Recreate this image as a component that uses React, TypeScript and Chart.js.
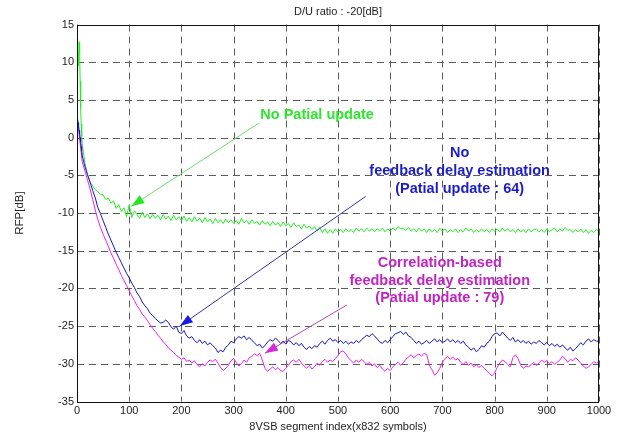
import React, { useEffect, useRef } from "react";
import { Chart, registerables } from "chart.js";

Chart.register(...registerables);

const FONT = "'Liberation Sans', Arial, sans-serif";

const segmentIndex = [
  0, 1, 2, 3, 4, 5, 6, 7, 8, 9, 10,
  15, 20, 25, 30, 35, 40, 45, 50, 55, 60,
  65, 70, 75, 80, 85, 90, 95, 100, 105, 110,
  115, 120, 125, 130, 135, 140, 145, 150, 155, 160,
  165, 170, 175, 180, 185, 190, 195, 200, 205, 210,
  215, 220, 225, 230, 235, 240, 245, 250, 255, 260,
  265, 270, 275, 280, 285, 290, 295, 300, 305, 310,
  315, 320, 325, 330, 335, 340, 345, 350, 355, 360,
  365, 370, 375, 380, 385, 390, 395, 400, 405, 410,
  415, 420, 425, 430, 435, 440, 445, 450, 455, 460,
  465, 470, 475, 480, 485, 490, 495, 500, 505, 510,
  515, 520, 525, 530, 535, 540, 545, 550, 555, 560,
  565, 570, 575, 580, 585, 590, 595, 600, 605, 610,
  615, 620, 625, 630, 635, 640, 645, 650, 655, 660,
  665, 670, 675, 680, 685, 690, 695, 700, 705, 710,
  715, 720, 725, 730, 735, 740, 745, 750, 755, 760,
  765, 770, 775, 780, 785, 790, 795, 800, 805, 810,
  815, 820, 825, 830, 835, 840, 845, 850, 855, 860,
  865, 870, 875, 880, 885, 890, 895, 900, 905, 910,
  915, 920, 925, 930, 935, 940, 945, 950, 955, 960,
  965, 970, 975, 980, 985, 990, 995, 1000,
];

const noPartialUpdate = [
  4.2, 10.4, 9.5, 10.8, 12.7, 11.2, 7.5, 4.0, 1.8, 0.2, -0.8,
  -3.3, -4.9, -5.9, -6.4, -6.9, -7.2, -7.5, -7.6, -8.2, -8.0,
  -8.7, -8.4, -9.4, -8.9, -9.8, -9.3, -10.5, -8.9, -10.6, -9.7,
  -10.2, -10.7, -9.9, -10.6, -10.1, -10.8, -10.2, -10.7, -10.3, -10.9,
  -10.2, -10.8, -10.4, -11.0, -10.3, -10.9, -10.5, -11.0, -10.4, -11.1,
  -10.6, -11.2, -10.5, -11.1, -10.7, -11.3, -10.6, -11.2, -10.8, -11.4,
  -10.7, -11.3, -10.9, -11.4, -10.8, -11.3, -10.9, -11.4, -11.0, -11.5,
  -10.7, -11.3, -11.0, -11.5, -10.9, -11.4, -11.1, -11.6, -11.0, -11.5,
  -11.2, -11.7, -11.1, -11.6, -11.3, -11.8, -11.2, -11.7, -11.4, -11.9,
  -11.3, -11.8, -11.6, -12.1, -11.5, -12.0, -11.7, -12.2, -11.8, -12.4,
  -11.9, -12.6, -12.1, -12.7, -12.2, -12.7, -12.1, -12.5, -12.2, -12.6,
  -12.1, -12.5, -12.2, -12.6, -12.0, -12.4, -12.1, -12.5, -12.0, -12.4,
  -12.1, -12.5, -12.1, -12.4, -12.0, -12.5, -12.1, -12.4, -12.0, -12.3,
  -11.8, -12.1, -12.0, -12.3, -11.9, -12.4, -12.1, -12.5, -12.0, -12.4,
  -12.1, -12.6, -12.1, -12.5, -12.2, -12.6, -12.0, -12.4, -12.1, -12.6,
  -12.2, -12.5, -12.1, -12.6, -12.2, -12.5, -12.0, -12.4, -12.1, -12.6,
  -12.2, -12.5, -12.1, -12.5, -12.2, -12.6, -12.1, -12.4, -12.1, -12.5,
  -12.0, -12.4, -12.1, -12.5, -12.2, -12.6, -12.1, -12.5, -12.2, -12.6,
  -12.1, -12.5, -12.2, -12.1, -12.5, -12.2, -12.6, -12.1, -12.5, -12.2,
  -12.0, -12.5, -12.1, -12.4, -11.9, -12.3, -12.2, -12.6, -12.2, -12.5,
  -12.1, -12.6, -12.2, -12.7, -12.3, -12.6, -12.2, -12.4,
];

const noFeedbackDelay = [
  3.0, 2.5, 2.0, 1.5, 1.0, 0.5, 0.0, -0.6, -1.2, -1.8, -2.4,
  -3.8, -4.9, -5.9, -7.0, -8.0, -9.3, -10.1, -11.0, -11.9, -12.8,
  -13.6, -14.4, -15.2, -15.9, -16.6, -17.3, -18.0, -18.6, -19.3, -19.9,
  -20.6, -21.1, -21.8, -22.3, -22.7, -23.3, -23.6, -24.0, -24.3, -24.6,
  -24.5, -24.2, -24.5, -25.1, -25.4, -25.0, -25.8, -26.0, -25.6, -26.3,
  -26.6, -26.4, -26.9, -27.2, -26.8, -27.3, -27.0, -27.5, -27.2, -27.6,
  -27.9, -28.5, -28.2, -28.4, -27.8, -27.5, -27.0, -27.2, -26.7, -26.4,
  -26.6, -26.3, -26.8, -26.5, -26.9, -27.2, -27.6, -27.4, -27.9, -27.6,
  -27.1, -26.8, -27.0, -26.6, -26.9, -27.3, -27.0, -27.4, -26.9, -27.1,
  -27.5, -27.2, -27.6, -27.3, -27.8, -28.1, -27.7, -28.0, -27.6, -27.8,
  -27.3, -27.0, -27.4, -26.9, -26.6, -27.0, -26.8, -27.2, -26.9, -27.3,
  -27.0, -27.4, -27.1, -27.3, -26.9, -27.2, -26.8, -26.5, -26.2, -26.4,
  -26.0, -26.3, -26.7, -27.1, -27.3, -26.9, -27.2, -26.8, -26.4, -26.0,
  -25.9, -25.7, -26.1, -25.8, -26.3, -26.5, -26.9, -27.3, -27.0, -27.4,
  -27.2, -26.9, -27.3, -27.0, -26.7, -27.1, -26.8, -27.2, -27.0, -26.7,
  -27.1, -26.8, -27.2, -26.9, -27.3, -27.0, -27.5, -27.8, -28.2, -27.9,
  -28.4, -28.1, -27.6, -27.8, -27.3, -27.0, -26.4, -26.0, -25.9, -26.3,
  -25.8, -26.2, -26.6, -26.9, -26.5, -27.1, -26.8, -27.2, -26.9, -27.3,
  -27.0, -27.4, -27.1, -27.3, -26.9, -27.2, -27.5, -27.2, -27.6, -27.3,
  -27.7, -27.4, -27.8, -27.5, -27.9, -28.2, -27.8, -28.3, -28.0, -27.6,
  -27.2, -27.5, -27.0, -26.7, -27.1, -26.8, -27.0, -27.0,
];

const correlationBased = [
  2.8, 2.2, 1.6, 1.0, 0.4, -0.2, -0.8, -1.4, -2.0, -2.6, -3.2,
  -4.4, -5.6, -6.8, -8.2, -9.6, -10.9, -11.9, -12.8, -13.6, -14.4,
  -15.3, -16.0, -16.8, -17.5, -18.3, -19.0, -19.6, -20.3, -21.0, -21.6,
  -22.3, -22.8, -23.4, -23.8, -24.3, -24.8, -25.3, -25.7, -26.2, -26.6,
  -27.1, -27.4, -27.9, -28.2, -28.5, -28.9, -29.1, -29.4, -29.2, -29.7,
  -29.5, -29.9, -29.6, -30.1, -30.4, -30.0, -30.3, -29.8, -29.5, -29.7,
  -29.4, -29.9, -30.5, -30.9, -30.6, -30.2, -29.6, -29.3, -29.8, -30.3,
  -30.0, -29.5, -29.8, -29.2, -29.0, -28.7, -28.9, -28.6, -29.5, -30.6,
  -31.0, -30.7, -30.4, -30.8, -30.5, -30.9, -31.0, -30.6, -30.2, -29.7,
  -29.5, -29.8, -29.4, -29.9, -30.3, -30.6, -30.2, -30.7, -30.4, -29.9,
  -30.2, -29.7, -29.4, -29.8, -29.5, -29.7, -29.3, -28.9, -28.4, -28.3,
  -28.7, -29.2, -29.6, -29.9, -29.5, -29.8, -29.4, -29.7, -30.1, -29.8,
  -30.3, -30.0, -30.5, -30.2, -30.7, -31.0, -30.6, -30.9, -30.4, -30.1,
  -29.8, -30.2, -29.9, -29.4, -29.1, -28.8, -29.2, -28.9, -28.7, -29.0,
  -28.6, -28.8, -30.2, -30.8, -31.5, -31.2, -30.6, -29.8, -29.3, -29.0,
  -29.4, -29.1, -29.5, -29.3, -29.8, -30.1, -29.7, -30.2, -29.9, -30.4,
  -30.1, -30.5, -30.2, -30.6, -30.9, -31.3, -31.6, -31.2, -30.5, -29.9,
  -29.5, -29.7, -30.1, -30.4, -29.2, -28.8, -29.3, -30.2, -30.6, -30.3,
  -30.4, -30.1, -29.8, -30.2, -29.9, -29.5, -29.8, -29.6, -30.0, -29.7,
  -30.1, -29.8, -29.5, -29.0, -29.3, -29.8, -29.4, -29.6, -29.2, -29.5,
  -29.9, -30.3, -30.6, -30.4, -30.1, -29.7, -29.9, -29.8,
];

const yTicks = [-35, -30, -25, -20, -15, -10, -5, 0, 5, 10, 15];
const xTicks = [0, 100, 200, 300, 400, 500, 600, 700, 800, 900, 1000];

const toPoints = (ys: number[]) => ys.map((v, i) => ({ x: segmentIndex[i], y: v }));

type Note = { lines: string[]; x: number; y: number; color: string };
const notes: Note[] = [
  { lines: ["No Patial update"], x: 460, y: 3.0, color: "#2ee62e" },
  { lines: ["No", "feedback delay estimation", "(Patial update : 64)"], x: 733, y: -2.1, color: "#1c1cc8" },
  { lines: ["Correlation-based", "feedback delay estimation", "(Patial update : 79)"], x: 695, y: -16.6, color: "#c224c2" },
];

type Arrow = { x0: number; y0: number; x1: number; y1: number; line: string; head: string };
const arrows: Arrow[] = [
  { x0: 348, y0: 1.9, x1: 104, y1: -9.1, line: "#6cdc6c", head: "#22e622" },
  { x0: 553, y0: -7.8, x1: 197, y1: -25.0, line: "#3434a8", head: "#1a1ae6" },
  { x0: 517, y0: -22.2, x1: 360, y1: -28.6, line: "#b048b0", head: "#d826d8" },
];

const overlayPlugin = {
  id: "overlay",
  beforeDatasetsDraw(chart: any) {
    const { ctx, scales, chartArea } = chart;
    const { left, right, top, bottom } = chartArea;
    ctx.save();
    ctx.strokeStyle = "#5c5c5c";
    ctx.lineWidth = 1;
    ctx.setLineDash([7, 5]);
    for (const v of xTicks) {
      const px = Math.round(scales.x.getPixelForValue(v)) + 0.5;
      ctx.beginPath();
      ctx.moveTo(px, top);
      ctx.lineTo(px, bottom);
      ctx.stroke();
    }
    for (const v of yTicks) {
      const py = Math.round(scales.y.getPixelForValue(v)) + 0.5;
      ctx.beginPath();
      ctx.moveTo(left, py);
      ctx.lineTo(right, py);
      ctx.stroke();
    }
    ctx.restore();
  },
  afterDatasetsDraw(chart: any) {
    const { ctx, scales } = chart;
    const xs = scales.x;
    const ys = scales.y;
    ctx.save();
    for (const a of arrows) {
      const px0 = xs.getPixelForValue(a.x0);
      const py0 = ys.getPixelForValue(a.y0);
      const px1 = xs.getPixelForValue(a.x1);
      const py1 = ys.getPixelForValue(a.y1);
      ctx.strokeStyle = a.line;
      ctx.lineWidth = 1;
      ctx.beginPath();
      ctx.moveTo(px0, py0);
      ctx.lineTo(px1, py1);
      ctx.stroke();
      const ang = Math.atan2(py1 - py0, px1 - px0);
      const len = 13;
      const hw = 4.5;
      const bx = px1 - len * Math.cos(ang);
      const by = py1 - len * Math.sin(ang);
      ctx.fillStyle = a.head;
      ctx.beginPath();
      ctx.moveTo(px1, py1);
      ctx.lineTo(bx + hw * Math.sin(ang), by - hw * Math.cos(ang));
      ctx.lineTo(bx - hw * Math.sin(ang), by + hw * Math.cos(ang));
      ctx.closePath();
      ctx.fill();
    }
    ctx.font = `bold 14.5px ${FONT}`;
    ctx.textAlign = "center";
    ctx.textBaseline = "middle";
    for (const n of notes) {
      const cx = xs.getPixelForValue(n.x);
      const cy = ys.getPixelForValue(n.y);
      ctx.fillStyle = n.color;
      n.lines.forEach((t, i) => ctx.fillText(t, cx, cy + i * 17.8));
    }
    ctx.restore();
  },
  afterDraw(chart: any) {
    const { ctx, chartArea } = chart;
    const { left, right, top, bottom } = chartArea;
    ctx.save();
    ctx.strokeStyle = "#111";
    ctx.lineWidth = 1;
    ctx.setLineDash([]);
    ctx.strokeRect(Math.round(left) + 0.5, Math.round(top) + 0.5, Math.round(right - left) - 1, Math.round(bottom - top));
    ctx.fillStyle = "#222";
    ctx.font = `11px ${FONT}`;
    ctx.textAlign = "center";
    ctx.textBaseline = "middle";
    ctx.fillText("D/U ratio : -20[dB]", (left + right) / 2, 12);
    ctx.restore();
  },
};

export default function App() {
  const ref = useRef<HTMLCanvasElement | null>(null);
  useEffect(() => {
    if (!ref.current) return;
    const chart = new Chart(ref.current, {
      type: "line",
      data: {
        datasets: [
          { label: "No feedback delay estimation", data: toPoints(noFeedbackDelay), borderColor: "#1414c8", borderWidth: 1, pointRadius: 0, tension: 0 },
          { label: "Correlation-based", data: toPoints(correlationBased), borderColor: "#ee22ee", borderWidth: 1, pointRadius: 0, tension: 0 },
          { label: "No Patial update", data: toPoints(noPartialUpdate), borderColor: "#22ee22", borderWidth: 1, pointRadius: 0, tension: 0 },
        ],
      },
      options: {
        animation: false,
        responsive: false,
        layout: { padding: { top: 24.5, right: 20, left: 0, bottom: 0 } },
        plugins: { legend: { display: false }, tooltip: { enabled: false }, title: { display: false } },
        scales: {
          x: {
            type: "linear",
            min: 0,
            max: 1000,
            afterFit: (s: any) => { s.height = 36.5; },
            afterBuildTicks: (s: any) => { s.ticks = xTicks.map((v) => ({ value: v })); },
            ticks: { color: "#222", font: { family: FONT, size: 11 }, padding: 3, maxRotation: 0, callback: (v: any) => String(v) },
            grid: { display: false, drawTicks: false },
            border: { display: false },
            title: { display: true, text: "8VSB segment index(x832 symbols)", color: "#222", font: { family: FONT, size: 11 }, padding: { top: 0, bottom: 4.4 } },
          },
          y: {
            type: "linear",
            min: -35,
            max: 15,
            afterFit: (s: any) => { s.width = 77; },
            afterBuildTicks: (s: any) => { s.ticks = yTicks.map((v) => ({ value: v })); },
            ticks: { color: "#222", font: { family: FONT, size: 11 }, padding: 3, callback: (v: any) => String(v) },
            grid: { display: false, drawTicks: false },
            border: { display: false },
            title: { display: true, text: "RFP[dB]", color: "#222", font: { family: FONT, size: 11.5 }, padding: { top: 13.4, bottom: 0 } },
          },
        },
      },
      plugins: [overlayPlugin],
    } as any);
    return () => chart.destroy();
  }, []);
  return (
    <div style={{ position: "absolute", left: 0, top: 0, width: 619, height: 438, background: "#fff" }}>
      <canvas ref={ref} width={619} height={438} style={{ width: 619, height: 438, display: "block" }} />
    </div>
  );
}
